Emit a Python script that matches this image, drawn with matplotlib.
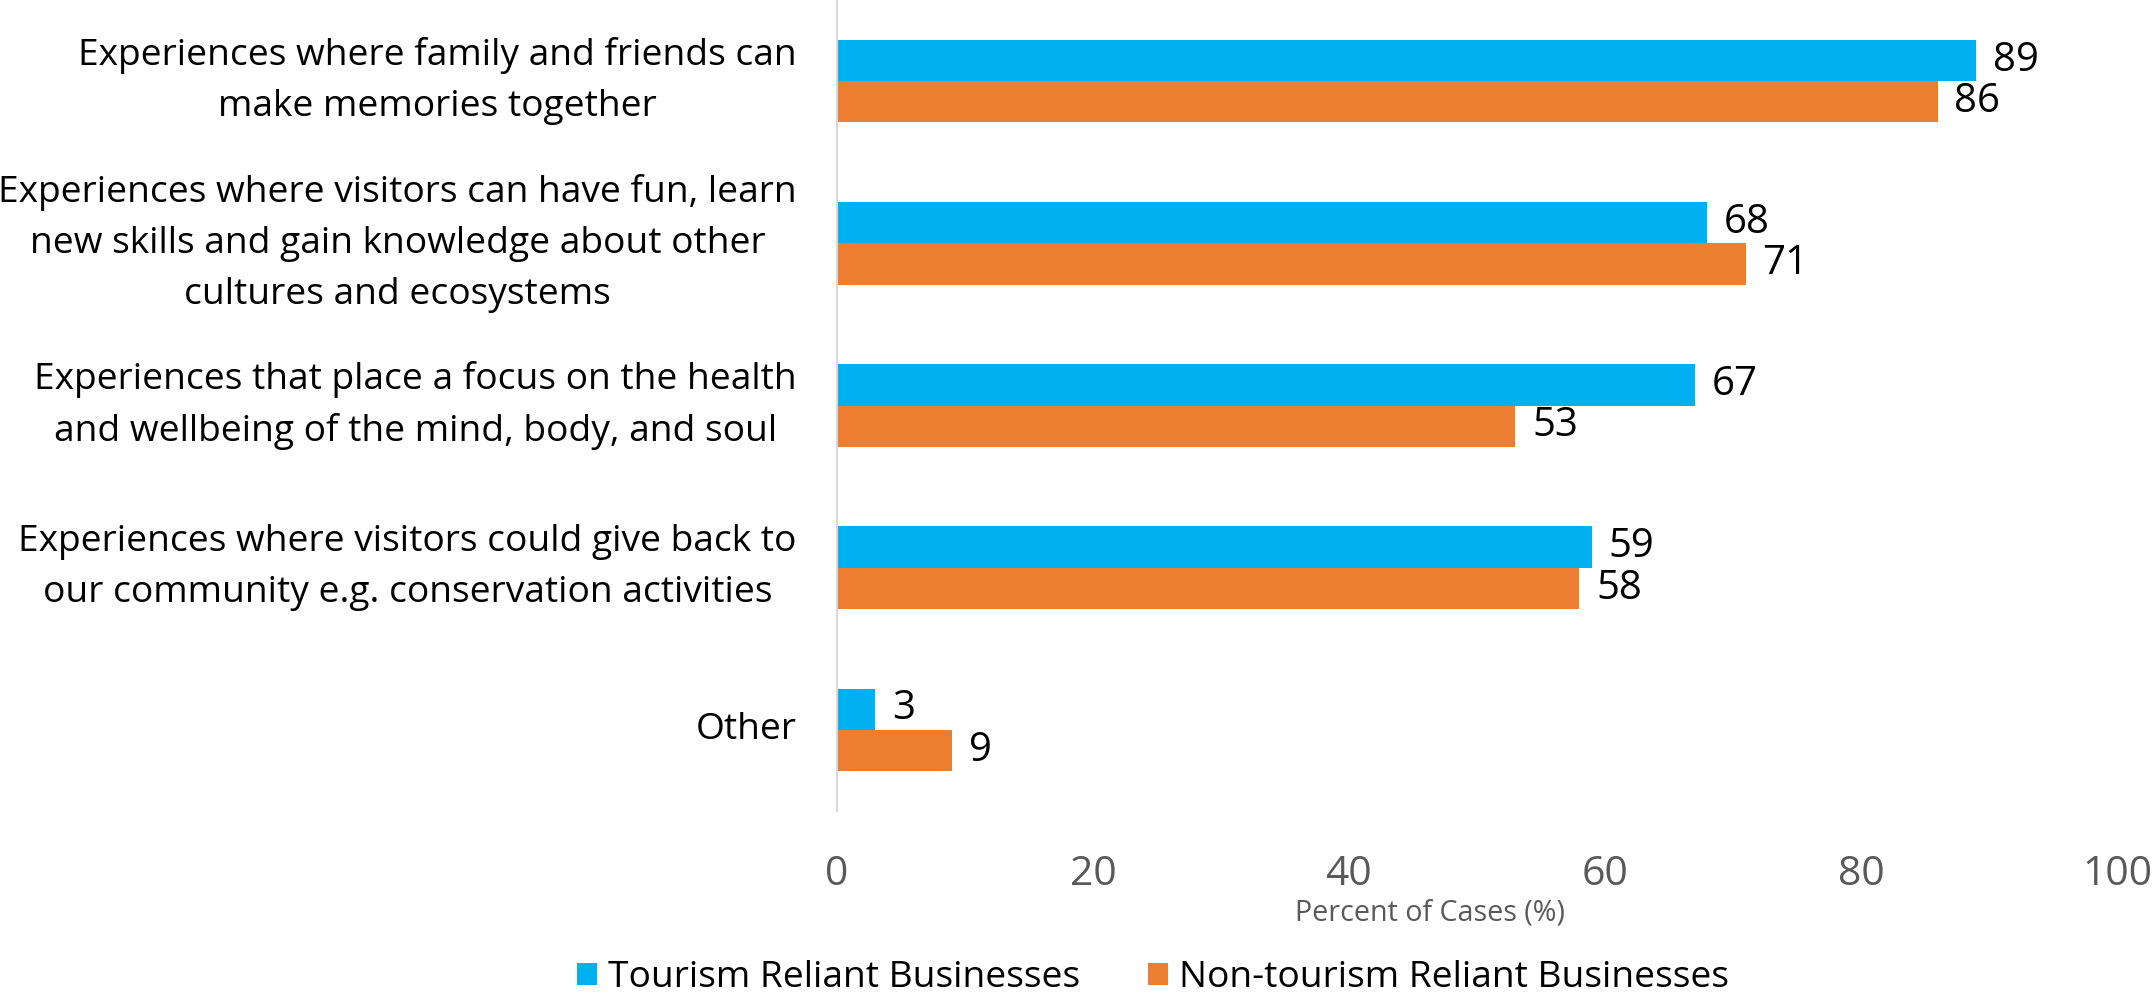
import matplotlib
matplotlib.use("Agg")
import matplotlib.pyplot as plt
from matplotlib import font_manager
from matplotlib.patches import Patch

categories = [
    "Experiences where family and friends can\nmake memories together",
    "Experiences where visitors can have fun, learn\nnew skills and gain knowledge about other\ncultures and ecosystems",
    "Experiences that place a focus on the health\nand wellbeing of the mind, body, and soul",
    "Experiences where visitors could give back to\nour community e.g. conservation activities",
    "Other",
]
tourism = [89, 68, 67, 59, 3]
non_tourism = [86, 71, 53, 58, 9]
series_names = ["Tourism Reliant Businesses", "Non-tourism Reliant Businesses"]
x_ticks = [0, 20, 40, 60, 80, 100]
x_title = "Percent of Cases (%)"

BLUE = "#00B0F0"
ORANGE = "#ED7D31"
GREY = "#595959"

available = {f.name for f in font_manager.fontManager.ttflist}
FONT = next((n for n in ["Liberation Sans Narrow", "Open Sans", "Lato", "DejaVu Sans"]
             if n in available), "DejaVu Sans")
plt.rcParams["font.family"] = [FONT, "DejaVu Sans"]

W, H, DPI = 2156, 996, 100
fig = plt.figure(figsize=(W / DPI, H / DPI), dpi=DPI)

# size the text so its first label line spans the intended width
probe = fig.text(0, 0, "Experiences where family and friends can", fontsize=10)
fig.canvas.draw()
pw = probe.get_window_extent().width
probe.remove()
base = 10 * 719 / pw

ax = fig.add_axes([837 / W, 185 / H, (2117 - 837) / W, 811 / H])

n = len(categories)
ys = list(range(n))
h = 0.255
b1 = ax.barh([y - h / 2 for y in ys], tourism, height=h, color=BLUE)
b2 = ax.barh([y + h / 2 for y in ys], non_tourism, height=h, color=ORANGE)

for bars, vals in ((b1, tourism), (b2, non_tourism)):
    for bar, v in zip(bars, vals):
        ax.annotate(f"{v}", xy=(v, bar.get_y() + bar.get_height() / 2),
                    xytext=(12, 0), textcoords="offset points",
                    ha="left", va="center", fontsize=base * 1.08, color="black")

ax.set_xlim(0, 100)
ax.set_ylim(n - 0.5, -0.5)
ax.set_yticks(ys)
ax.set_yticklabels(categories, fontsize=base, multialignment="center",
                   linespacing=1.56, va="center")
ax.set_xticks(x_ticks)
ax.set_xticklabels([str(t) for t in x_ticks], fontsize=base * 1.1, color=GREY)
ax.tick_params(axis="y", length=0, pad=29)
ax.tick_params(axis="x", length=0, pad=31)
for s in ["top", "right", "bottom"]:
    ax.spines[s].set_visible(False)
ax.spines["left"].set_color("#D9D9D9")
ax.spines["left"].set_linewidth(1.5)

fig.text(1430 / W, 1 - 913 / H, x_title, ha="center", va="center",
         fontsize=base * 0.77, color=GREY)

handles = [Patch(facecolor=BLUE, edgecolor="none"), Patch(facecolor=ORANGE, edgecolor="none")]
fig.legend(handles, series_names, loc="center", bbox_to_anchor=(1153 / W, 1 - 978 / H),
           ncol=2, frameon=False, fontsize=base, handlelength=0.55, handleheight=0.55,
           handletextpad=0.3, columnspacing=1.8, borderpad=0)

fig.savefig("out.png", dpi=DPI)
